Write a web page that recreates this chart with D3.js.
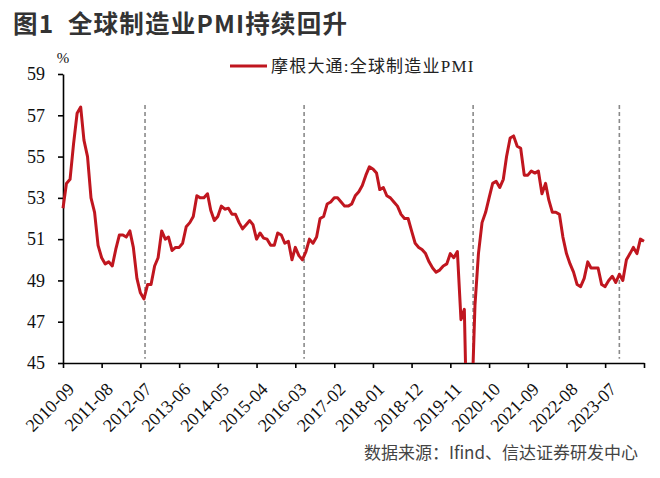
<!DOCTYPE html>
<html>
<head>
<meta charset="utf-8">
<script src="https://cdn.jsdelivr.net/npm/d3@7"></script>
<style>
  body { margin: 0; background: #fff; }
</style>
</head>
<body>
<svg id="chart" width="660" height="478"></svg>
<script>
// 摩根大通全球制造业PMI, 月度, 2010-09 ~ 2024-06
let pmi = [
  52.5, 53.7, 53.9, 55.6,                                           // 2010-09..12
  57.1, 57.4, 55.8, 55.0, 53.0, 52.3, 50.7, 50.1, 49.8, 49.9, 49.7, 50.5, // 2011
  51.2, 51.2, 51.1, 51.4, 50.6, 49.1, 48.4, 48.1, 48.8, 48.8, 49.7, 50.1, // 2012
  51.4, 51.0, 51.1, 50.45, 50.6, 50.6, 50.8, 51.6, 51.8, 52.1, 53.1, 53.0, // 2013
  53.0, 53.2, 52.4, 51.9, 52.1, 52.6, 52.45, 52.5, 52.2, 52.2, 51.8, 51.5, // 2014
  51.7, 51.9, 51.7, 51.0, 51.3, 51.05, 51.0, 50.7, 50.7, 51.3, 51.2, 50.8, // 2015
  50.9, 50.0, 50.6, 50.2, 50.0, 50.4, 51.0, 50.8, 51.1, 52.0, 52.1, 52.7, // 2016
  52.8, 53.0, 53.0, 52.8, 52.6, 52.6, 52.7, 53.1, 53.3, 53.6, 54.1, 54.5, // 2017
  54.4, 54.2, 53.4, 53.5, 53.1, 53.0, 52.8, 52.6, 52.2, 52.0, 52.0, 51.4, // 2018
  50.8, 50.6, 50.5, 50.3, 49.9, 49.6, 49.4, 49.5, 49.7, 49.8, 50.3, 50.1, // 2019
  50.4, 47.1, 47.6, 39.6, 42.4, 47.8, 50.3, 51.8, 52.3, 53.0, 53.7, 53.8, // 2020
  53.5, 53.9, 55.0, 55.9, 56.0, 55.5, 55.4, 54.1, 54.1, 54.3, 54.2, 54.3, // 2021
  53.2, 53.7, 52.9, 52.3, 52.3, 52.2, 51.1, 50.3, 49.8, 49.4, 48.8, 48.7, // 2022
  49.1, 49.9, 49.6, 49.6, 49.6, 48.8, 48.7, 49.0, 49.2, 48.9, 49.3, 49.0, // 2023
  50.0, 50.3, 50.6, 50.3, 51.0, 50.9                                 // 2024
]
let months = d3.utcMonth.range(Date.UTC(2010, 8, 1), Date.UTC(2024, 6, 1))

let tickLabels = ["2010-09", "2011-08", "2012-07", "2013-06", "2014-05", "2015-04", "2016-03",
  "2017-02", "2018-01", "2018-12", "2019-11", "2020-10", "2021-09", "2022-08", "2023-07", "2024-06"]
let yTicks = [45, 47, 49, 51, 53, 55, 57, 59]
// 虚线标记的时间点
let markerDates = ["2012-08-10", "2016-05-16", "2020-05-16", "2023-11-01"]

let title = "图1  全球制造业PMI持续回升"
let legendName = "摩根大通:全球制造业PMI"
let source = "数据来源：Ifind、信达证券研发中心"

let red = "#c0161f"
let parseMonth = d3.utcParse("%Y-%m")
let parseDay = d3.utcParse("%Y-%m-%d")

var svg = d3.select("#chart")

var x = d3.scaleUtc()
  .domain([months[0], months[months.length - 1]])
  .range([63, 644])
var y = d3.scaleLinear()
  .domain([45, 59])
  .range([363, 74])

// title
svg.append("text")
  .attr("x", 13)
  .attr("y", 33)
  .style("white-space", "pre")
  .style("font-family", "'Noto Sans CJK SC', sans-serif")
  .style("font-weight", "bold")
  .style("font-size", "24.5px")
  .style("letter-spacing", "1.2px")
  .style("fill", "#333")
  .text(title)

// legend
svg.append("line")
  .attr("x1", 230).attr("x2", 267)
  .attr("y1", 66).attr("y2", 66)
  .style("stroke", red)
  .style("stroke-width", 3)
svg.append("text")
  .attr("x", 271)
  .attr("y", 66)
  .attr("dy", "0.35em")
  .style("font-family", "'Liberation Serif', 'Noto Sans CJK SC', serif")
  .style("font-size", "17px")
  .style("letter-spacing", "1.2px")
  .style("fill", "#222")
  .text(legendName)

// y axis
var yAxis = svg.append("g")
  .attr("transform", "translate(63,0)")
  .call(d3.axisLeft(y).tickValues(yTicks).tickSize(5).tickSizeOuter(0).tickPadding(13))
yAxis.selectAll("text")
  .style("font-family", "'Liberation Serif', serif")
  .style("font-size", "18px")
  .style("fill", "#111")

svg.append("text")
  .attr("x", 63)
  .attr("y", 63)
  .attr("text-anchor", "middle")
  .style("font-family", "'Liberation Serif', serif")
  .style("font-size", "15px")
  .style("fill", "#111")
  .text("%")

// x axis
var xAxis = svg.append("g")
  .attr("transform", "translate(0,363)")
  .call(d3.axisBottom(x)
    .tickValues(tickLabels.map(parseMonth))
    .tickSize(5)
    .tickSizeOuter(0)
    .tickFormat(function(d, i) { return i < tickLabels.length - 1 ? tickLabels[i] : "" }))
xAxis.selectAll("text")
  .attr("x", -11)
  .attr("y", 15)
  .attr("dy", "0.71em")
  .attr("text-anchor", "end")
  .attr("transform", "rotate(-45)")
  .style("font-family", "'Liberation Serif', serif")
  .style("font-size", "18px")
  .style("fill", "#111")

svg.selectAll(".domain, .tick line")
  .style("stroke", "#000")
  .style("stroke-width", 1.6)

// dashed markers
svg.selectAll(".marker")
  .data(markerDates)
  .enter()
  .append("line")
  .attr("class", "marker")
  .attr("x1", d => x(parseDay(d)))
  .attr("x2", d => x(parseDay(d)))
  .attr("y1", y(57.5))
  .attr("y2", y(45.2))
  .style("stroke", "#8a8a8a")
  .style("stroke-width", 1.6)
  .style("stroke-dasharray", "4,3")

// line, clipped at the axis minimum
svg.append("clipPath")
  .attr("id", "plot-clip")
  .append("rect")
  .attr("x", 60).attr("y", y(59) - 10)
  .attr("width", 600)
  .attr("height", y(45) - y(59) + 10)

var line = d3.line()
  .x((d, i) => x(months[i]))
  .y(d => y(d))

svg.append("path")
  .datum(pmi)
  .attr("clip-path", "url(#plot-clip)")
  .attr("d", line)
  .style("fill", "none")
  .style("stroke", red)
  .style("stroke-width", 3)
  .style("stroke-linejoin", "round")

// source
svg.append("text")
  .attr("x", 638)
  .attr("y", 459)
  .attr("text-anchor", "end")
  .style("font-family", "'Noto Sans CJK SC', sans-serif")
  .style("font-size", "17px")
  .style("fill", "#444")
  .text(source)
</script>
</body>
</html>
